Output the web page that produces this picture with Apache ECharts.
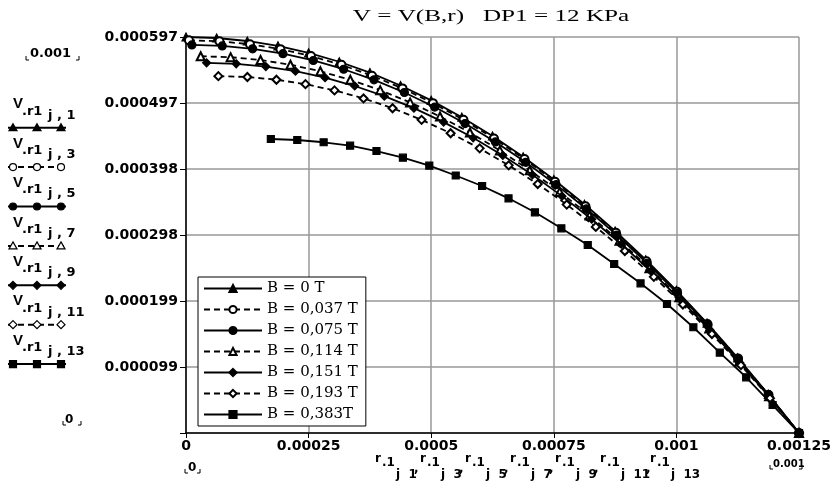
<!DOCTYPE html>
<html><head><meta charset="utf-8">
<script src="https://cdn.jsdelivr.net/npm/echarts@6/dist/echarts.min.js"></script>
<style>html,body{margin:0;padding:0;background:#fff}#c{width:840px;height:483px}</style>
</head><body><div id="c"></div>
<script>
// ---------- data ----------
const seriesNames = ['B = 0 T', 'B = 0,037 T', 'B = 0,075 T', 'B = 0,114 T', 'B = 0,151 T', 'B = 0,193 T', 'B = 0,383T'];
const seriesKeys = ['1', '3', '5', '7', '9', '11', '13'];
const titleText = 'V = V(B,r)   DP1 = 12 KPa';
const xTicks = [0, 0.00025, 0.0005, 0.00075, 0.001, 0.00125];
const yTickLabels = ['0.000099', '0.000199', '0.000298', '0.000398', '0.000497', '0.000597'];

const x1 = [0, 0.0000625, 0.000125, 0.0001875, 0.00025, 0.0003125, 0.000375, 0.0004375, 0.0005, 0.0005625, 0.000625, 0.0006875, 0.00075, 0.0008125, 0.000875, 0.0009375, 0.001, 0.0010625, 0.001125, 0.0011875, 0.00125];
const v1 = [0.000597, 0.0005955, 0.000591, 0.0005836, 0.0005731, 0.0005597, 0.0005433, 0.0005239, 0.0005015, 0.0004761, 0.0004478, 0.0004164, 0.0003821, 0.0003448, 0.0003045, 0.0002612, 0.0002149, 0.0001657, 0.0001134, 0.0000582, 0];

const x2 = [0.000006, 0.0000682, 0.0001304, 0.0001926, 0.0002548, 0.000317, 0.0003792, 0.0004414, 0.0005036, 0.0005658, 0.000628, 0.0006902, 0.0007524, 0.0008146, 0.0008768, 0.000939, 0.0010012, 0.0010634, 0.0011256, 0.0011878, 0.00125];
const v2 = [0.000592, 0.0005905, 0.0005861, 0.0005787, 0.0005683, 0.000555, 0.0005387, 0.0005195, 0.0004973, 0.0004721, 0.000444, 0.0004129, 0.0003789, 0.0003419, 0.0003019, 0.000259, 0.0002131, 0.0001643, 0.0001125, 0.0000577, 0];

const x3 = [0.000012, 0.0000739, 0.0001358, 0.0001977, 0.0002596, 0.0003215, 0.0003834, 0.0004453, 0.0005072, 0.0005691, 0.000631, 0.0006929, 0.0007548, 0.0008167, 0.0008786, 0.0009405, 0.0010024, 0.0010643, 0.0011262, 0.0011881, 0.00125];
const v3 = [0.000585, 0.0005835, 0.0005792, 0.0005718, 0.0005616, 0.0005484, 0.0005324, 0.0005133, 0.0004914, 0.0004665, 0.0004388, 0.000408, 0.0003744, 0.0003378, 0.0002984, 0.0002559, 0.0002106, 0.0001623, 0.0001112, 0.000057, 0];

const x4 = [0.00003, 0.000091, 0.000152, 0.000213, 0.000274, 0.000335, 0.000396, 0.000457, 0.000518, 0.000579, 0.00064, 0.000701, 0.000762, 0.000823, 0.000884, 0.000945, 0.001006, 0.001067, 0.001128, 0.001189, 0.00125];
const v4 = [0.000568, 0.0005666, 0.0005623, 0.0005552, 0.0005453, 0.0005325, 0.0005169, 0.0004984, 0.0004771, 0.000453, 0.000426, 0.0003962, 0.0003635, 0.000328, 0.0002897, 0.0002485, 0.0002045, 0.0001576, 0.0001079, 0.0000554, 0];

const x5 = [0.000042, 0.0001024, 0.0001628, 0.0002232, 0.0002836, 0.000344, 0.0004044, 0.0004648, 0.0005252, 0.0005856, 0.000646, 0.0007064, 0.0007668, 0.0008272, 0.0008876, 0.000948, 0.0010084, 0.0010688, 0.0011292, 0.0011896, 0.00125];
const v5 = [0.000558, 0.0005566, 0.0005524, 0.0005455, 0.0005357, 0.0005231, 0.0005078, 0.0004897, 0.0004687, 0.000445, 0.0004185, 0.0003892, 0.0003571, 0.0003223, 0.0002846, 0.0002441, 0.0002009, 0.0001549, 0.000106, 0.0000544, 0];

const x6 = [0.000066, 0.0001252, 0.0001844, 0.0002436, 0.0003028, 0.000362, 0.0004212, 0.0004804, 0.0005396, 0.0005988, 0.000658, 0.0007172, 0.0007764, 0.0008356, 0.0008948, 0.000954, 0.0010132, 0.0010724, 0.0011316, 0.0011908, 0.00125];
const v6 = [0.000538, 0.0005367, 0.0005326, 0.0005259, 0.0005165, 0.0005044, 0.0004896, 0.0004721, 0.0004519, 0.0004291, 0.0004035, 0.0003753, 0.0003443, 0.0003107, 0.0002744, 0.0002354, 0.0001937, 0.0001493, 0.0001022, 0.0000525, 0];

const x7 = [0.000173, 0.0002269, 0.0002807, 0.0003346, 0.0003884, 0.0004423, 0.0004961, 0.00055, 0.0006038, 0.0006577, 0.0007115, 0.0007654, 0.0008192, 0.0008731, 0.0009269, 0.0009808, 0.0010346, 0.0010885, 0.0011423, 0.0011962, 0.00125];
const v7 = [0.0004432, 0.0004417, 0.0004383, 0.0004331, 0.0004251, 0.000415, 0.000403, 0.0003882, 0.0003724, 0.0003538, 0.0003327, 0.0003086, 0.0002834, 0.0002548, 0.0002257, 0.0001945, 0.0001594, 0.0001211, 0.000084, 0.0000422, 0];

// ---------- chart ----------
const xs = [x1, x2, x3, x4, x5, x6, x7];
const vs = [v1, v2, v3, v4, v5, v6, v7];
const markStyles = [
  {shape: 'triangle', filled: true, dashed: false},
  {shape: 'circle', filled: false, dashed: true},
  {shape: 'circle', filled: true, dashed: false},
  {shape: 'triangle', filled: false, dashed: true},
  {shape: 'diamond', filled: true, dashed: false},
  {shape: 'diamond', filled: false, dashed: true},
  {shape: 'rect', filled: true, dashed: false}
];
const AX = "DejaVu Sans";
const chart = echarts.init(document.getElementById('c'));

const series = seriesNames.map((name, i) => ({
  name: name,
  type: 'line',
  data: xs[i].map((x, j) => [x, vs[i][j]]),
  symbol: (markStyles[i].filled ? '' : 'empty') + markStyles[i].shape,
  symbolSize: markStyles[i].shape === 'rect' ? 7 : 8,
  showSymbol: true,
  clip: false,
  z: 3 + i,
  lineStyle: {color: '#000', width: 1.8, type: markStyles[i].dashed ? [6, 4] : 'solid'},
  itemStyle: {color: '#000', borderColor: '#000', borderWidth: 1.2},
  emphasis: {disabled: true}
}));

function marker(ms, cx, cy) {
  const st = {fill: ms.filled ? '#000' : '#fff', stroke: '#000', lineWidth: 1.2};
  if (ms.shape === 'triangle') return {type: 'polygon', shape: {points: [[cx, cy - 4], [cx + 4, cy + 3], [cx - 4, cy + 3]]}, style: st, z: 20};
  if (ms.shape === 'circle') return {type: 'circle', shape: {cx: cx, cy: cy, r: 3.5}, style: st, z: 20};
  if (ms.shape === 'diamond') return {type: 'polygon', shape: {points: [[cx, cy - 4], [cx + 4, cy], [cx, cy + 4], [cx - 4, cy]]}, style: st, z: 20};
  return {type: 'rect', shape: {x: cx - 3.5, y: cy - 3.5, width: 7, height: 7}, style: st, z: 20};
}
function txt(t, x, y, size, opts) {
  opts = opts || {};
  return {type: 'text', x: x, y: y, z: 20, scaleX: opts.scaleX || 1,
    style: {text: t, x: 0, y: 0, fill: '#000', font: (opts.weight || 'bold') + ' ' + size + 'px ' + (opts.family || AX),
      align: opts.align || 'left', verticalAlign: 'middle'}};
}
function brackets(xl, xr, yb) {
  return [
    {type: 'polyline', shape: {points: [[xl, yb - 4], [xl, yb], [xl + 3, yb]]}, style: {stroke: '#000', lineWidth: 1, fill: null}, z: 20},
    {type: 'polyline', shape: {points: [[xr, yb - 4], [xr, yb], [xr - 3, yb]]}, style: {stroke: '#000', lineWidth: 1, fill: null}, z: 20}
  ];
}

const graphics = [];
// title
graphics.push(txt(titleText, 491, 17, 17, {family: 'Liberation Serif', weight: 'normal', align: 'center', scaleX: 1.48}));
// left Mathcad-style axis annotation
graphics.push(txt('0.001', 30, 54, 13));
graphics.push(...brackets(26, 79, 60));
graphics.push(txt('0', 65, 420, 12));
graphics.push(...brackets(63, 81, 425));
seriesKeys.forEach((k, n) => {
  const yb = 127.7 + 39.4 * n;
  graphics.push(txt('V', 13, yb - 23.5, 15, {family: 'Liberation Sans'}));
  graphics.push(txt('.r1', 22, yb - 16.5, 13));
  graphics.push(txt('j , ' + k, 48, yb - 12.5, 13));
  graphics.push({type: 'line', shape: {x1: 8, y1: yb, x2: 66, y2: yb},
    style: {stroke: '#000', lineWidth: 2, lineDash: markStyles[n].dashed ? [6, 4] : null}, z: 19});
  [13, 37, 61].forEach(cx => graphics.push(marker(markStyles[n], cx, yb)));
});
// bottom Mathcad-style axis annotation
graphics.push(txt('0', 188, 468, 12));
graphics.push(...brackets(185, 200, 473));
const bottomStarts = [375, 420, 465, 510, 555, 600, 650];
seriesKeys.forEach((k, n) => {
  const x0 = bottomStarts[n];
  graphics.push(txt('r', x0, 459, 12));
  graphics.push(txt('.1', x0 + 7, 463, 12));
  graphics.push(txt('j  ' + k, x0 + 21, 475, 12));
  if (n < seriesKeys.length - 1) graphics.push(txt(',', x0 + (k.length > 1 ? 46 : 39), 469, 12));
});
graphics.push(txt('0.001', 773, 464, 10));
graphics.push(...brackets(770, 802, 469));

chart.setOption({
  animation: false,
  backgroundColor: '#fff',
  grid: {left: 186, right: 41, top: 37, bottom: 50},
  xAxis: {
    type: 'value', min: xTicks[0], max: xTicks[xTicks.length - 1], interval: xTicks[1] - xTicks[0],
    axisLine: {show: true, onZero: false, lineStyle: {color: '#000', width: 1.5}},
    axisTick: {show: true, length: 5, lineStyle: {color: '#000', width: 1}},
    splitLine: {show: true, lineStyle: {color: '#999', width: 1.5}},
    axisLabel: {color: '#000', fontFamily: AX, fontWeight: 'bold', fontSize: 14, margin: 6,
      formatter: v => { let best = xTicks[0]; xTicks.forEach(t => { if (Math.abs(t - v) < Math.abs(best - v)) best = t; }); return String(best); }}
  },
  yAxis: {
    type: 'value', min: 0, max: 0.000597, interval: 0.0000995,
    axisLine: {show: true, onZero: false, lineStyle: {color: '#000', width: 1.5}},
    axisTick: {show: true, length: 6, lineStyle: {color: '#000', width: 1}},
    splitLine: {show: true, lineStyle: {color: '#999', width: 1.5}},
    axisLabel: {color: '#000', fontFamily: AX, fontWeight: 'bold', fontSize: 14, margin: 8,
      formatter: v => { const idx = Math.round(v / 0.0000995) - 1; return idx >= 0 && idx < yTickLabels.length ? yTickLabels[idx] : ''; }}
  },
  legend: {
    orient: 'vertical', left: 198, top: 277, padding: [4, 8, 4, 5], itemGap: 6,
    itemWidth: 58, itemHeight: 9, borderColor: '#000', borderWidth: 1, backgroundColor: '#fff',
    textStyle: {fontFamily: 'DejaVu Serif', fontSize: 15, color: '#000'},
    data: seriesNames, selectedMode: false, z: 10
  },
  series: series,
  graphic: graphics
});
</script></body></html>
